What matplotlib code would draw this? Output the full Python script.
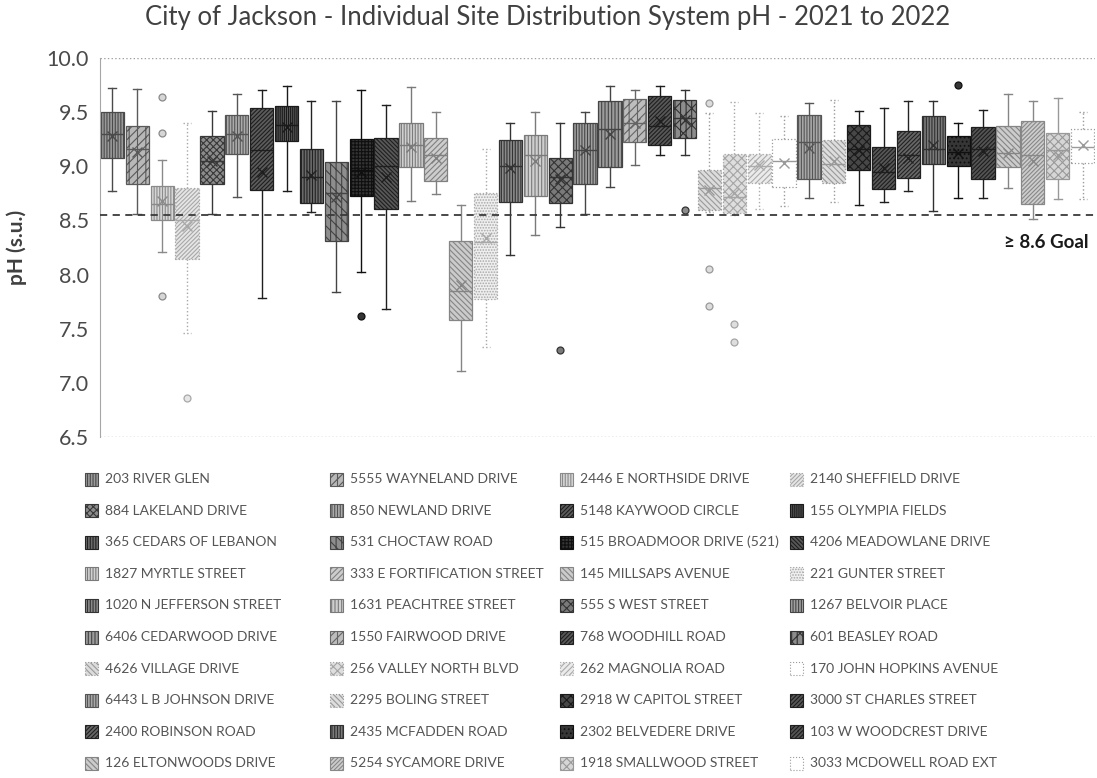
import matplotlib
matplotlib.use("Agg")
import matplotlib.pyplot as plt
from matplotlib.patches import Rectangle

plt.rcParams['font.family'] = ['Lato', 'DejaVu Sans']
plt.rcParams['hatch.linewidth'] = 0.8

# ---- data -------------------------------------------------------------
sites = [
    "203 RIVER GLEN", "5555 WAYNELAND DRIVE", "2446 E NORTHSIDE DRIVE", "2140 SHEFFIELD DRIVE",
    "884 LAKELAND DRIVE", "850 NEWLAND DRIVE", "5148 KAYWOOD CIRCLE", "155 OLYMPIA FIELDS",
    "365 CEDARS OF LEBANON", "531 CHOCTAW ROAD", "515 BROADMOOR DRIVE (521)", "4206 MEADOWLANE DRIVE",
    "1827 MYRTLE STREET", "333 E FORTIFICATION STREET", "145 MILLSAPS AVENUE", "221 GUNTER STREET",
    "1020 N JEFFERSON STREET", "1631 PEACHTREE STREET", "555 S WEST STREET", "1267 BELVOIR PLACE",
    "6406 CEDARWOOD DRIVE", "1550 FAIRWOOD DRIVE", "768 WOODHILL ROAD", "601 BEASLEY ROAD",
    "4626 VILLAGE DRIVE", "256 VALLEY NORTH BLVD", "262 MAGNOLIA ROAD", "170 JOHN HOPKINS AVENUE",
    "6443 L B JOHNSON DRIVE", "2295 BOLING STREET", "2918 W CAPITOL STREET", "3000 ST CHARLES STREET",
    "2400 ROBINSON ROAD", "2435 MCFADDEN ROAD", "2302 BELVEDERE DRIVE", "103 W WOODCREST DRIVE",
    "126 ELTONWOODS DRIVE", "5254 SYCAMORE DRIVE", "1918 SMALLWOOD STREET", "3033 MCDOWELL ROAD EXT",
]

whisker_low = [8.77, 8.56, 8.21, 7.46, 8.56, 8.72, 7.78, 8.77, 8.58, 7.84,
               8.02, 7.68, 8.68, 8.74, 7.11, 7.33, 8.18, 8.37, 8.44, 8.56,
               8.81, 9.01, 9.10, 9.10, 8.58, 8.55, 8.61, 8.63, 8.71, 8.67,
               8.64, 8.67, 8.77, 8.59, 8.71, 8.71, 8.80, 8.51, 8.70, 8.70]
quartile1 = [9.08, 8.84, 8.50, 8.14, 8.84, 9.11, 8.78, 9.23, 8.66, 8.31,
             8.73, 8.61, 8.99, 8.86, 7.58, 7.77, 8.67, 8.73, 8.66, 8.84,
             8.99, 9.22, 9.20, 9.26, 8.60, 8.57, 8.85, 8.81, 8.88, 8.85,
             8.97, 8.79, 8.89, 9.02, 9.00, 8.88, 8.99, 8.65, 8.88, 9.03]
medians = [9.30, 9.16, 8.65, 8.50, 9.05, 9.30, 9.15, 9.38, 8.90, 8.75,
           8.97, 9.00, 9.20, 9.10, 7.85, 8.30, 9.00, 9.10, 8.90, 9.15,
           9.34, 9.40, 9.37, 9.45, 8.80, 8.72, 9.00, 9.05, 9.22, 9.02,
           9.16, 8.95, 9.10, 9.16, 9.13, 9.16, 9.12, 9.10, 9.15, 9.18]
quartile3 = [9.50, 9.37, 8.82, 8.80, 9.28, 9.47, 9.54, 9.56, 9.16, 9.04,
             9.25, 9.26, 9.40, 9.26, 8.31, 8.75, 9.24, 9.29, 9.08, 9.40,
             9.60, 9.62, 9.65, 9.61, 8.97, 9.11, 9.11, 9.25, 9.47, 9.24,
             9.38, 9.18, 9.33, 9.46, 9.28, 9.36, 9.37, 9.42, 9.31, 9.34]
whisker_high = [9.72, 9.71, 9.06, 9.40, 9.51, 9.67, 9.70, 9.74, 9.60, 9.60,
                9.70, 9.57, 9.73, 9.50, 8.64, 9.16, 9.40, 9.50, 9.40, 9.50,
                9.74, 9.70, 9.74, 9.70, 9.49, 9.59, 9.49, 9.46, 9.58, 9.61,
                9.51, 9.54, 9.60, 9.60, 9.40, 9.52, 9.67, 9.60, 9.63, 9.50]
means = [9.28, 9.13, 8.68, 8.45, 9.05, 9.28, 8.95, 9.36, 8.92, 8.72,
         8.95, 8.90, 9.18, 9.08, 7.90, 8.34, 8.98, 9.05, 8.88, 9.15,
         9.30, 9.40, 9.42, 9.43, 8.78, 8.75, 9.01, 9.03, 9.17, 9.05,
         9.15, 8.98, 9.08, 9.20, 9.12, 9.14, 9.12, 9.05, 9.10, 9.20]
outliers = [[], [], [9.64, 9.31, 7.80], [6.86], [], [], [], [], [], [],
            [7.62], [], [], [], [], [], [], [], [7.30], [],
            [], [], [], [8.60], [9.58, 8.05, 7.71], [7.54, 7.38], [], [], [], [],
            [], [], [], [], [9.75], [], [], [], [], []]

goal_line = 8.55
y_ticks = [6.5, 7.0, 7.5, 8.0, 8.5, 9.0, 9.5, 10.0]

# ---- per-site fill style: (face, hatch, line colour, dotted outline) ----
styles = [
    ('#9a9a9a', '||||||', '#4a4a4a', False), ('#b8b8b8', '||////', '#5a5a5a', False),
    ('#d6d6d6', '||||||', '#8a8a8a', False), ('#e6e6e6', '////////', '#a8a8a8', True),
    ('#8c8c8c', 'xxxxx', '#383838', False), ('#ababab', '||||||', '#555555', False),
    ('#5c5c5c', '////////', '#1e1e1e', False), ('#5a5a5a', '||||||||', '#1a1a1a', False),
    ('#6a6a6a', '||||||', '#222222', False), ('#8e8e8e', '|||\\\\\\', '#444444', False),
    ('#353535', '+++++', '#0f0f0f', False), ('#585858', '\\\\\\\\\\\\\\\\', '#1e1e1e', False),
    ('#d0d0d0', '||||||', '#7a7a7a', False), ('#cdcdcd', '//////', '#808080', False),
    ('#cbcbcb', '\\\\\\\\\\\\', '#858585', False), ('#efefef', '......', '#a8a8a8', True),
    ('#8a8a8a', '||||||', '#333333', False), ('#cfcfcf', '|||||', '#7a7a7a', False),
    ('#7a7a7a', 'xxxx', '#333333', False), ('#a0a0a0', '||||||', '#454545', False),
    ('#9c9c9c', '|||||', '#444444', False), ('#bdbdbd', '||////', '#666666', False),
    ('#585858', '////////', '#1e1e1e', False), ('#8c8c8c', '|||xx', '#333333', False),
    ('#dcdcdc', '\\\\\\\\\\\\', '#9a9a9a', True), ('#dedede', 'xxxx', '#a5a5a5', True),
    ('#ebebeb', '//////', '#ababab', True), ('#ffffff', '', '#9a9a9a', True),
    ('#a8a8a8', '||||||', '#555555', False), ('#dddddd', '\\\\\\\\\\\\', '#999999', True),
    ('#474747', 'xxxx', '#1a1a1a', False), ('#575757', '////////', '#1e1e1e', False),
    ('#676767', '////////', '#222222', False), ('#7a7a7a', '||||||', '#303030', False),
    ('#363636', '....', '#101010', False), ('#545454', '////////', '#1e1e1e', False),
    ('#cccccc', '\\\\\\\\\\\\', '#858585', False), ('#cdcdcd', '////////', '#888888', False),
    ('#d6d6d6', 'xxxx', '#999999', False), ('#ffffff', '', '#9a9a9a', True),
]

# ---- figure -----------------------------------------------------------
fig = plt.figure(figsize=(10.97, 7.78), dpi=100)
ax = fig.add_axes([100 / 1097, 1 - 437 / 778, 995 / 1097, 379 / 778])

stats = []
for i in range(len(sites)):
    stats.append(dict(label=sites[i], whislo=whisker_low[i], q1=quartile1[i],
                      med=medians[i], q3=quartile3[i], whishi=whisker_high[i],
                      mean=means[i], fliers=outliers[i]))

positions = list(range(1, len(sites) + 1))
bp = ax.bxp(stats, positions=positions, widths=0.93, capwidths=0.32,
            patch_artist=True, showmeans=True, showfliers=True)

for i, (face, hatch, line, dotted) in enumerate(styles):
    ls = ':' if dotted else '-'
    box = bp['boxes'][i]
    box.set_facecolor(face)
    box.set_hatch(hatch)
    box.set_edgecolor(line)
    box.set_linewidth(0.9)
    box.set_linestyle(ls)
    for art in bp['whiskers'][2 * i:2 * i + 2] + bp['caps'][2 * i:2 * i + 2]:
        art.set_color(line)
        art.set_linewidth(1.0)
        art.set_linestyle(ls)
    med = bp['medians'][i]
    med.set_color(line)
    med.set_linewidth(1.0)
    mean = bp['means'][i]
    mean.set_marker('x')
    mean.set_markersize(7)
    mean.set_markeredgecolor(line)
    mean.set_markerfacecolor('none')
    mean.set_markeredgewidth(1.0)
    fl = bp['fliers'][i]
    fl.set_marker('o')
    fl.set_markersize(5)
    fl.set_markerfacecolor(face if face != '#ffffff' else '#eeeeee')
    fl.set_markeredgecolor(line)
    fl.set_markeredgewidth(0.9)

ax.axhline(goal_line, color='#3a3a3a', lw=1.3, ls=(0, (4, 3)), zorder=5)
ax.axhline(10.0, color='#a0a0a0', lw=1.0, ls=':', zorder=0)
ax.axhline(6.5, color='#a0a0a0', lw=1.0, ls=':', zorder=0)

ax.set_xlim(0.5, len(sites) + 0.5)
ax.set_ylim(6.5, 10.0)
ax.set_xticks([])
ax.set_yticks(y_ticks)
ax.set_yticklabels([f"{v:.1f}" for v in y_ticks], fontsize=15.5, color='#4a4a4a')
ax.tick_params(axis='y', length=0, pad=8)
for side in ('top', 'right', 'bottom'):
    ax.spines[side].set_visible(False)
ax.spines['left'].set_color('#a6a6a6')
ax.set_ylabel("pH (s.u.)", fontsize=15, fontweight='bold', color='#404040', labelpad=14)

ax.text(0.993, 8.30, "≥ 8.6 Goal", transform=ax.get_yaxis_transform(),
        ha='right', va='center', fontsize=13.5, fontweight='bold', color='#1a1a1a')

fig.text(548 / 1097, 1 - 18 / 778,
         "City of Jackson - Individual Site Distribution System pH - 2021 to 2022",
         ha='center', va='center', fontsize=18.5, color='#404040')

# ---- legend (row-major, four columns) ----------------------------------
col_x = [85, 330, 560, 790]
row_y0 = 479
row_dy = 31.6
sq = 13
for i, name in enumerate(sites):
    r, c = divmod(i, 4)
    face, hatch, line, dotted = styles[i]
    xp = col_x[c]
    yc = row_y0 + r * row_dy
    rect = Rectangle((xp / 1097, 1 - (yc + sq / 2) / 778), sq / 1097, sq / 778,
                     transform=fig.transFigure, facecolor=face, hatch=hatch,
                     edgecolor=line, linewidth=0.8, linestyle=':' if dotted else '-')
    fig.patches.append(rect)
    fig.text((xp + 20) / 1097, 1 - yc / 778, name, ha='left', va='center',
             fontsize=10, color='#555555')

fig.savefig("out.png", dpi=100)
